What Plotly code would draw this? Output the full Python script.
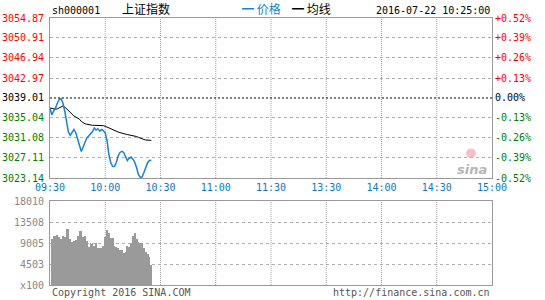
import plotly.graph_objects as go

# ---- data ----
prev_close = 3039.01
price_ticks = [3023.14, 3027.11, 3031.08, 3035.04, 3039.01, 3042.97, 3046.94, 3050.91, 3054.87]
pct_labels = ["-0.52%", "-0.39%", "-0.26%", "-0.13%", "0.00%", "+0.13%", "+0.26%", "+0.39%", "+0.52%"]
vol_ticks = [0, 4503, 9005, 13508, 18010]
vol_labels = ["x100", "4503", "9005", "13508", "18010"]
time_vals = [0, 30, 60, 90, 120, 150, 180, 210, 240]
time_labels = ["09:30", "10:00", "10:30", "11:00", "11:30", "13:30", "14:00", "14:30", "15:00"]

minutes = list(range(0, 56))
price = [3037.02, 3035.63, 3036.43, 3037.02, 3038.01, 3038.71, 3038.91, 3038.01, 3036.43, 3033.85,
         3032.26, 3031.61, 3032.16, 3032.76, 3032.12, 3030.78, 3029.39, 3028.40, 3029.29, 3030.38,
         3031.07, 3031.47, 3031.87, 3032.30, 3033.06, 3032.66, 3032.92, 3032.42, 3032.76, 3032.52,
         3032.06, 3030.48, 3027.70, 3026.16, 3025.46, 3025.42, 3026.21, 3027.50, 3028.20, 3028.42,
         3028.20, 3027.50, 3026.61, 3027.11, 3027.31, 3026.87, 3026.27, 3025.22, 3023.83, 3023.28,
         3023.34, 3024.23, 3025.32, 3026.18, 3026.61, 3026.65]
avg_price = [3037.02, 3036.96, 3036.82, 3036.78, 3036.86, 3037.08, 3037.26, 3037.42, 3037.22, 3036.82,
             3036.43, 3036.03, 3035.73, 3035.44, 3035.24, 3035.06, 3034.80, 3034.35, 3034.05, 3033.89,
             3033.81, 3033.69, 3033.61, 3033.59, 3033.59, 3033.59, 3033.59, 3033.59, 3033.59, 3033.51,
             3033.39, 3033.21, 3033.02, 3032.84, 3032.66, 3032.48, 3032.36, 3032.26, 3032.14, 3032.00,
             3031.89, 3031.83, 3031.75, 3031.69, 3031.67, 3031.63, 3031.51, 3031.37, 3031.21, 3031.03,
             3030.91, 3030.78, 3030.68, 3030.62, 3030.60, 3030.60]
vol_minutes = list(range(1, 56))
volume = [9860, 10500, 10400, 10700, 10200, 9900, 10400, 10300, 12000, 12000,
          9800, 9300, 9400, 9700, 10400, 11600, 11600, 10200, 10400, 9400,
          8200, 8900, 8800, 8400, 8900, 8000, 7900, 7900, 8400, 10300,
          11800, 11100, 10000, 10000, 8400, 8200, 8000, 7400, 7500, 6800,
          7000, 8400, 8200, 8900, 10400, 11200, 9800, 9200, 8900, 8900,
          8000, 7100, 6600, 6000, 4300]

MONO = "DejaVu Sans Mono, monospace"
CJK = "Noto Sans CJK SC"
GRID = "#a0a0a0"
BORDER = "#999999"
BLUE = "#1a80d0"

fig = go.Figure()
fig.add_trace(go.Bar(x=vol_minutes, y=volume, width=0.5, marker=dict(color="#9a9a9a", line=dict(width=0)),
                     xaxis="x2", yaxis="y2", hoverinfo="skip"))
fig.add_trace(go.Scatter(x=minutes, y=avg_price, mode="lines", line=dict(color="black", width=1),
                         xaxis="x", yaxis="y", hoverinfo="skip"))
fig.add_trace(go.Scatter(x=minutes, y=price, mode="lines", line=dict(color=BLUE, width=1.5),
                         xaxis="x", yaxis="y", hoverinfo="skip"))

ax_common = dict(showline=True, mirror=True, linecolor=BORDER, linewidth=1, zeroline=False, ticks="")

fig.update_layout(
    width=545, height=300,
    margin=dict(l=50, r=53, t=18, b=15),
    paper_bgcolor="white", plot_bgcolor="white",
    showlegend=False,
    bargap=0,
    xaxis=dict(domain=[0, 1], range=[0, 240], tickvals=time_vals, ticktext=time_labels, showgrid=False,
               tickfont=dict(family=MONO, size=10, color="#0a78d0"), anchor="y", **ax_common),
    yaxis=dict(domain=[107 / 267, 1], range=[price_ticks[0], price_ticks[-1]],
               tickvals=[v for v in price_ticks if v != prev_close],
               gridcolor="#b0b0b0", gridwidth=1, griddash="dot",
               showticklabels=False, anchor="x", **ax_common),
    xaxis2=dict(domain=[0, 1], range=[0, 240], showticklabels=False, showgrid=False, anchor="y2", **ax_common),
    yaxis2=dict(domain=[0, 84 / 267], range=[0, 18010], tickvals=vol_ticks,
                gridcolor="#b0b0b0", gridwidth=1, griddash="dot",
                showticklabels=False, anchor="x2", **ax_common),
)

shapes = []
dot = dict(color=GRID, width=1, dash="1px,1px")
for t in time_vals[1:-1]:
    shapes.append(dict(type="line", xref="x", yref="y domain", x0=t, x1=t, y0=0, y1=1, line=dot, layer="below"))
    shapes.append(dict(type="line", xref="x2", yref="y2 domain", x0=t, x1=t, y0=0, y1=1, line=dot, layer="above"))
shapes.append(dict(type="line", xref="x domain", yref="y", x0=0, x1=1, y0=prev_close, y1=prev_close,
                   line=dict(color="black", width=1, dash="2px,2px"), layer="above"))
shapes.append(dict(type="circle", xref="paper", yref="y", x0=(466 - 50) / 442, x1=(476 - 50) / 442,
                   y0=3027.1, y1=3029.0, fillcolor="rgba(240,150,160,0.6)", line=dict(width=0), layer="above"))
fig.update_layout(shapes=shapes)

ann = []
for v, p in zip(price_ticks, pct_labels):
    col = "red" if v > prev_close else ("black" if v == prev_close else "green")
    ann.append(dict(xref="paper", yref="y", x=0, y=v, xanchor="right", yanchor="middle", xshift=-4,
                    text=f"{v:.2f}", showarrow=False, font=dict(family=MONO, size=10, color=col)))
    ann.append(dict(xref="paper", yref="y", x=1, y=v, xanchor="left", yanchor="middle", xshift=1,
                    text=p, showarrow=False, font=dict(family=MONO, size=10, color=col)))
for v, t in zip(vol_ticks, vol_labels):
    ann.append(dict(xref="paper", yref="y2", x=0, y=v, xanchor="right", yanchor="middle", xshift=-4,
                    text=t, showarrow=False, font=dict(family=MONO, size=10, color="#888888")))

# header
ann += [
    dict(xref="paper", yref="paper", x=0, y=1, xanchor="left", yanchor="bottom", yshift=0,
         text="sh000001", showarrow=False, font=dict(family=MONO, size=10, color="black")),
    dict(xref="paper", yref="paper", x=70 / 442, y=1, xanchor="left", yanchor="bottom", yshift=-1,
         text="上证指数", showarrow=False, font=dict(family=CJK, size=12, color="black")),
    dict(xref="paper", yref="paper", x=190 / 442, y=1, xanchor="left", yanchor="bottom", yshift=-1,
         text="<b>━</b> 价格", showarrow=False, font=dict(family=CJK, size=12, color=BLUE)),
    dict(xref="paper", yref="paper", x=240 / 442, y=1, xanchor="left", yanchor="bottom", yshift=-1,
         text="<b>━</b> 均线", showarrow=False, font=dict(family=CJK, size=12, color="black")),
    dict(xref="paper", yref="paper", x=1, y=1, xanchor="right", yanchor="bottom", yshift=0,
         text="2016-07-22 10:25:00", showarrow=False, font=dict(family=MONO, size=10, color="black")),
    # footer
    dict(xref="paper", yref="paper", x=0, y=0, xanchor="left", yanchor="top", yshift=0,
         text="Copyright 2016 SINA.COM", showarrow=False, font=dict(family=MONO, size=10, color="#555555")),
    dict(xref="paper", yref="paper", x=1, y=0, xanchor="right", yanchor="top", yshift=0,
         text="http://finance.sina.com.cn", showarrow=False, font=dict(family=MONO, size=10, color="#555555")),
    # watermark
    dict(xref="paper", yref="y", x=1, y=3024.9, xanchor="right", yanchor="middle", xshift=-3,
         text="<b><i>sina</i></b>", showarrow=False, font=dict(family="DejaVu Sans", size=13, color="#b5b5b5")),
]
fig.update_layout(annotations=ann)

fig.write_html("out.html")
